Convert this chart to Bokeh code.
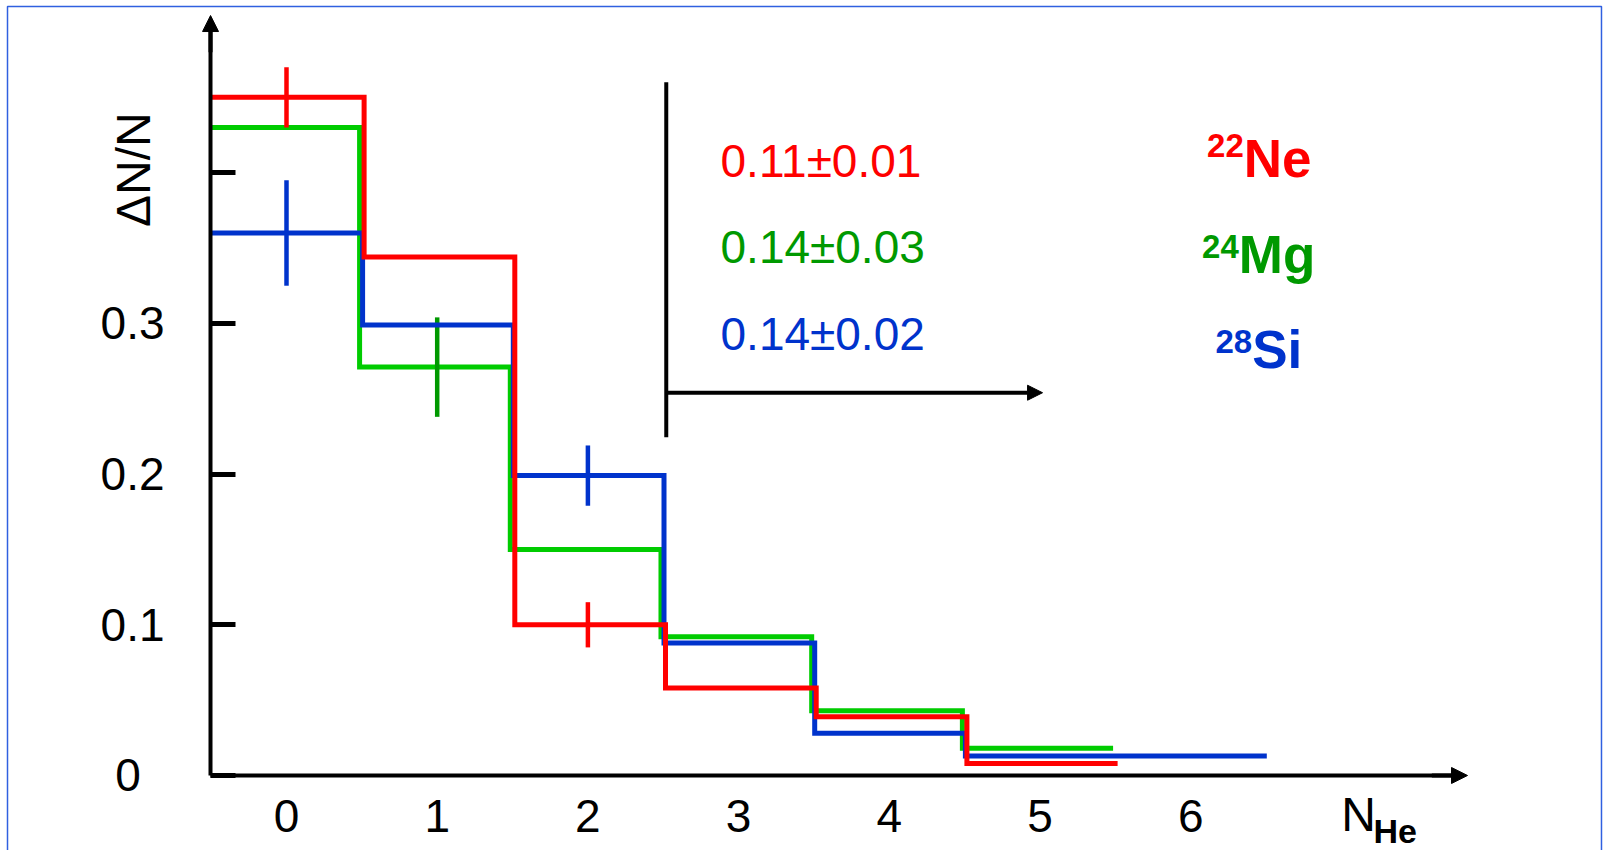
import numpy as np
from bokeh.plotting import figure
from bokeh.models import (Arrow, NormalHead, Label, Range1d,
                          FixedTicker, ColumnDataSource)
from bokeh.core.properties import value
from bokeh.embed import file_html
from bokeh.resources import INLINE

# ---------------- data ----------------
bins = [0, 1, 2, 3, 4, 5, 6]
bin_labels = ["0", "1", "2", "3", "4", "5", "6"]
ne22 = [0.450, 0.344, 0.100, 0.058, 0.039, 0.008]
mg24 = [0.430, 0.271, 0.150, 0.092, 0.043, 0.018]
si28 = [0.360, 0.299, 0.199, 0.088, 0.028, 0.013, 0.013]

ne22_err_bins = [0, 2]
ne22_err = [0.020, 0.015]
mg24_err_bins = [1]
mg24_err = [0.033]
si28_err_bins = [0, 2]
si28_err = [0.035, 0.020]

y_ticks = [0, 0.1, 0.2, 0.3, 0.4]
y_tick_labels = ["0", "0.1", "0.2", "0.3", ""]
slopes = ["0.11\u00b10.01", "0.14\u00b10.03", "0.14\u00b10.02"]
isotopes_mass = ["22", "24", "28"]
isotopes_elem = ["Ne", "Mg", "Si"]

# ---------------- styles ----------------
RED = "#ff0000"
GREEN = "#00cc00"
DKGREEN = "#009900"
BLUE = "#0033cc"
FONT = "Liberation Sans"
X0 = -0.504          # where the vertical axis sits
X_END = 7.837        # tip of the horizontal axis arrow
Y_END = 0.5043       # tip of the vertical axis arrow

p = figure(width=1607, height=850,
           x_range=Range1d(-1.8978, 8.7658), y_range=Range1d(-0.04977, 0.51427),
           output_backend="svg", toolbar_location=None,
           min_border_left=0, min_border_right=0,
           min_border_top=0, min_border_bottom=0)
p.grid.visible = False
p.outline_line_color = None
p.background_fill_color = "white"
p.border_fill_color = "white"

# x axis
xa = p.xaxis[0]
xa.fixed_location = 0
xa.bounds = (X0, X_END - 0.05)
xa.ticker = FixedTicker(ticks=bins)
xa.major_label_overrides = {b: l for b, l in zip(bins, bin_labels)}
xa.major_tick_in = 0
xa.major_tick_out = 0
xa.minor_tick_in = 0
xa.minor_tick_out = 0
xa.axis_line_width = 4
xa.axis_line_color = "black"
xa.major_label_text_font = FONT
xa.major_label_text_font_size = "46px"
xa.major_label_text_color = "black"
xa.major_label_standoff = 25

# y axis (the "0" label sits further left in the original, drawn separately)
ya = p.yaxis[0]
ya.fixed_location = X0
ya.bounds = (0, Y_END - 0.006)
ya.ticker = FixedTicker(ticks=y_ticks)
overrides = {t: l for t, l in zip(y_ticks, y_tick_labels)}
overrides[y_ticks[0]] = ""
ya.major_label_overrides = overrides
ya.major_tick_in = 25
ya.major_tick_out = 0
ya.major_tick_line_width = 5
ya.minor_tick_in = 0
ya.minor_tick_out = 0
ya.axis_line_width = 4
ya.axis_line_color = "black"
ya.major_label_text_font = FONT
ya.major_label_text_font_size = "46px"
ya.major_label_text_color = "black"
ya.major_label_standoff = 46
p.add_layout(Label(x=-1.052, y=y_ticks[0], text=y_tick_labels[0],
                   text_align="center", text_baseline="middle",
                   text_font=FONT, text_font_size="46px", text_color="black"))

# axis arrow heads
p.add_layout(Arrow(end=NormalHead(size=16, fill_color="black", line_color="black"),
                   x_start=X0, y_start=0.48, x_end=X0, y_end=Y_END,
                   line_width=4, line_color="black"))
p.add_layout(Arrow(end=NormalHead(size=16, fill_color="black", line_color="black"),
                   x_start=7.6, y_start=0, x_end=X_END, y_end=0,
                   line_width=4, line_color="black"))


def step_path(vals, dx):
    n = len(vals)
    edges = np.arange(n + 1) - 0.5 + dx
    edges[0] = -0.5
    xs, ys = [], []
    for i, v in enumerate(vals):
        xs += [edges[i], edges[i + 1]]
        ys += [v, v]
    return xs, ys


series = [
    (mg24, GREEN, -0.015, mg24_err_bins, mg24_err, DKGREEN),
    (si28, BLUE, 0.005, si28_err_bins, si28_err, BLUE),
    (ne22, RED, 0.015, ne22_err_bins, ne22_err, RED),
]
for vals, col, dx, eb, ee, ecol in series:
    xs, ys = step_path(vals, dx)
    p.line(xs, ys, line_color=col, line_width=5, line_join="miter")
    ev = np.array([vals[b] for b in eb])
    p.segment(x0=eb, y0=ev - np.array(ee), x1=eb, y1=ev + np.array(ee),
              line_color=ecol, line_width=4.5)

# inner bracket with arrow
p.segment(x0=[2.52], y0=[0.2245], x1=[2.52], y1=[0.46], line_color="black", line_width=4)
p.add_layout(Arrow(end=NormalHead(size=15, fill_color="black", line_color="black"),
                   x_start=2.52, y_start=0.254, x_end=5.017, y_end=0.254,
                   line_width=4, line_color="black"))

# slope texts
txt_cols = [RED, DKGREEN, BLUE]
src = ColumnDataSource(dict(x=[2.88] * 3, y=[0.408, 0.3506, 0.293],
                            t=slopes, c=txt_cols))
p.text(x="x", y="y", text="t", text_color="c", source=src,
       text_font=value(FONT), text_font_size="46px",
       text_align="left", text_baseline="middle")

# isotope labels
iso_src = ColumnDataSource(dict(x=[6.352, 6.319, 6.408],
                                ye=[0.4092, 0.3457, 0.2826],
                                ym=[0.4180, 0.3512, 0.2877],
                                e=isotopes_elem, m=isotopes_mass, c=txt_cols))
p.text(x="x", y="ye", text="e", text_color="c", source=iso_src,
       text_font=value(FONT), text_font_size="53px", text_font_style="bold",
       text_align="left", text_baseline="middle")
p.text(x="x", y="ym", text="m", text_color="c", source=iso_src,
       text_font=value(FONT), text_font_size="33px", text_font_style="bold",
       text_align="right", text_baseline="middle")

# axis titles
p.add_layout(Label(x=-1.015, y=0.402, text="\u0394N/N", angle=np.pi / 2,
                   text_align="center", text_baseline="middle",
                   text_font=FONT, text_font_size="48px", text_color="black"))
p.add_layout(Label(x=6.999, y=-0.0258, text="N", text_align="left",
                   text_baseline="middle", text_font=FONT,
                   text_font_size="48px", text_color="black"))
p.add_layout(Label(x=7.213, y=-0.0368, text="He", text_align="left",
                   text_baseline="middle", text_font=FONT,
                   text_font_size="34px", text_font_style="bold", text_color="black"))

# thin blue frame around the picture
p.quad(left=[-1.8513], right=[8.7259], top=[0.5103], bottom=[-0.07],
       fill_color=None, line_color="#3060e0", line_width=1.5)

open("out.html", "w").write(file_html(p, INLINE))
